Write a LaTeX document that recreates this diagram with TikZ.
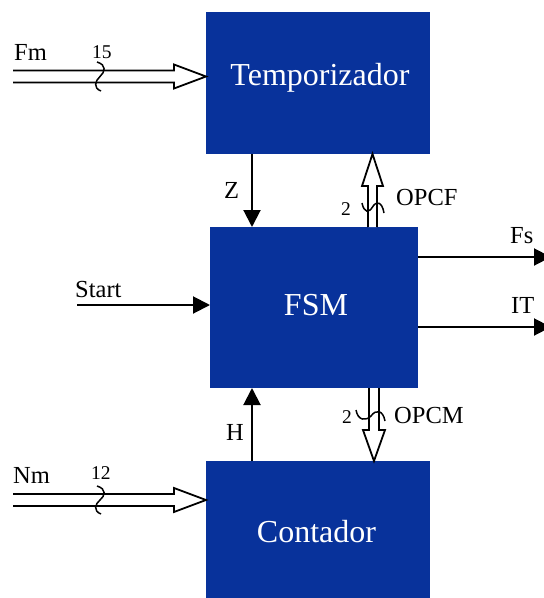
\documentclass[tikz,border=0pt]{standalone}
\usepackage{fontspec}
\setmainfont{Liberation Serif}
\usetikzlibrary{arrows.meta,calc}
\definecolor{boxblue}{RGB}{8,50,155}
\begin{document}
\begin{tikzpicture}[x=1pt,y=-1pt,
  blk/.style={draw=none,fill=boxblue,inner sep=0pt,outer sep=0pt,anchor=north west},
  blktext/.style={text=white,font=\fontsize{32}{32}\selectfont,inner sep=0pt,anchor=base},
  lbl/.style={font=\fontsize{24.5}{24.5}\selectfont,inner sep=0pt,anchor=base west},
  num/.style={font=\fontsize{19.5}{19.5}\selectfont,inner sep=0pt,anchor=base west},
  sig/.style={line width=2pt,-{Triangle[length=17pt,width=17pt]}},
  bus/.style={draw=black,line width=1.8pt,fill=white,line join=miter},
  tick/.style={draw=black,line width=1.5pt}
]
\useasboundingbox (0,0) rectangle (544,598);
\clip (0,0) rectangle (544,598);

% blocks
\node[blk,minimum width=224,minimum height=142] (temp) at (206,12) {};
\node[blk,minimum width=208,minimum height=161] (fsm) at (210,227) {};
\node[blk,minimum width=224,minimum height=140] (cont) at (206,461) {};
\node[blktext] (tempT) at (320,85) {Temporizador};
\node[blktext] (fsmT) at (316,315) {FSM};
\node[blktext] (contT) at (316.5,542) {Contador};

% coordinates
\coordinate (zx) at (252,0);
\coordinate (ocx) at (372.5,0);
\coordinate (omx) at (374,0);
\coordinate (startS) at (77,305);
\coordinate (fsE) at (551,257);
\coordinate (itE) at (551,327);
\coordinate (fmS) at (13,76.5);
\coordinate (nmS) at (13,500);
\coordinate (fmT) at (fmS -| temp.west);
\coordinate (nmT) at (nmS -| cont.west);
\coordinate (ocS) at (ocx |- fsm.north);
\coordinate (ocT) at (ocx |- temp.south);
\coordinate (omS) at (omx |- fsm.south);
\coordinate (omT) at (omx |- cont.north);

% single-bit signals
\draw[sig] (temp.south -| zx) -- (fsm.north -| zx);
\draw[sig] (cont.north -| zx) -- (fsm.south -| zx);
\draw[sig] (startS) -- (startS -| fsm.west);
\draw[sig] (fsE -| fsm.east) -- (fsE);
\draw[sig] (itE -| fsm.east) -- (itE);

% buses (horizontal)
\draw[bus] ($(fmS)+(0,-6)$) -- ($(fmT)+(-32,-6)$) -- ($(fmT)+(-32,-12)$) -- (fmT)
  -- ($(fmT)+(-32,12)$) -- ($(fmT)+(-32,6)$) -- ($(fmS)+(0,6)$);
\draw[bus] ($(nmS)+(0,-6)$) -- ($(nmT)+(-32,-6)$) -- ($(nmT)+(-32,-12)$) -- (nmT)
  -- ($(nmT)+(-32,12)$) -- ($(nmT)+(-32,6)$) -- ($(nmS)+(0,6)$);
% buses (vertical)
\draw[bus] ($(ocS)+(-4.5,0)$) -- ($(ocT)+(-4.5,32)$) -- ($(ocT)+(-10.5,32)$) -- (ocT)
  -- ($(ocT)+(10.5,32)$) -- ($(ocT)+(4.5,32)$) -- ($(ocS)+(4.5,0)$);
\draw[bus] ($(omS)+(-5,0)$) -- ($(omT)+(-5,-31)$) -- ($(omT)+(-11,-31)$) -- (omT)
  -- ($(omT)+(11,-31)$) -- ($(omT)+(5,-31)$) -- ($(omS)+(5,0)$);

% bus width ticks
\draw[tick] (97,62) .. controls (107,65) and (105,72) .. (100,76.5) .. controls (95,81) and (93,88) .. (101,91);
\draw[tick] (97,486) .. controls (107,489) and (105,496) .. (100,500) .. controls (95,504) and (93,511) .. (101,514);
\draw[tick] (362,203) .. controls (364,213) and (369,213) .. (372.5,207) .. controls (376,201) and (382,201) .. (384,213);
\draw[tick] (356,410) .. controls (358,421) and (366,421) .. (371,416) .. controls (376,409) and (383,410) .. (385,421);

% labels
\node[lbl] (fmL) at (14,60) {Fm};
\node[num] (fmN) at (92,58) {15};
\node[lbl] (nmL) at (13,483) {Nm};
\node[num] (nmN) at (91,479) {12};
\node[lbl] (startL) at (75,297) {Start};
\node[lbl] (zL) at (224,198) {Z};
\node[lbl] (hL) at (226,440) {H};
\node[num] (ocN) at (341,215) {2};
\node[lbl] (ocL) at (396,205) {OPCF};
\node[num] (omN) at (342,423) {2};
\node[lbl] (omL) at (394,423) {OPCM};
\node[lbl] (fsL) at (510,243) {Fs};
\node[lbl] (itL) at (511,313) {IT};
\end{tikzpicture}
\end{document}
